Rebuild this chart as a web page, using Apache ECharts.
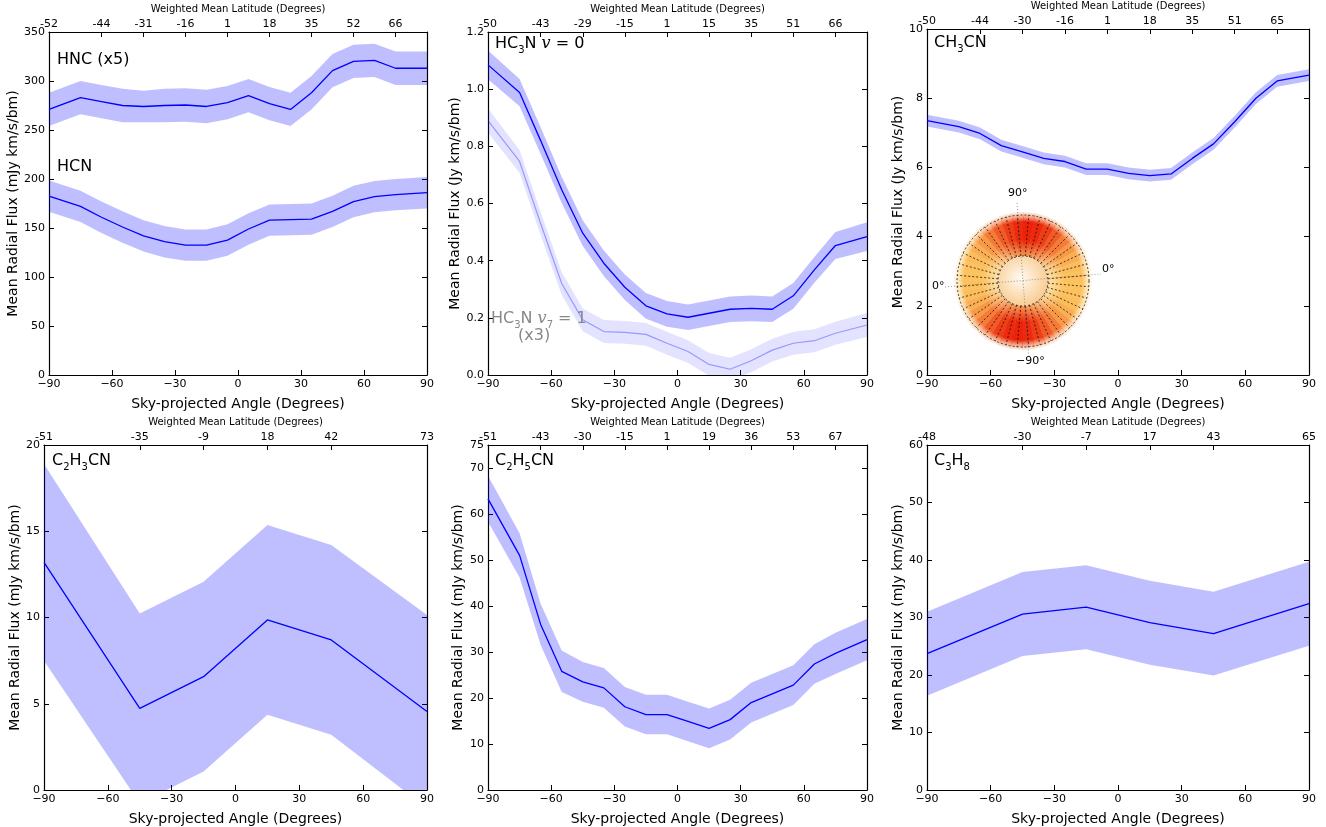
<!DOCTYPE html>
<html><head><meta charset="utf-8">
<script src="https://cdn.jsdelivr.net/npm/echarts@6/dist/echarts.min.js"></script>
<style>html,body{margin:0;background:#fff}#c{width:1326px;height:827px}</style>
</head><body><div id="c"></div>
<script>
// sky-projected angle samples
const xFull = [-90, -75, -65, -55, -45, -35, -25, -15, -5, 5, 15, 25, 35, 45, 55, 65, 75, 90];
const xCoarse = [-90, -45, -15, 15, 45, 90];

// top axis (weighted mean latitude) tick positions / labels
const topPosFull = [-90, -65, -45, -25, -5, 15, 35, 55, 75];
const topLabHNC = ['-52', '-44', '-31', '-16', '1', '18', '35', '52', '66'];
const topLabHC3N = ['-50', '-43', '-29', '-15', '1', '15', '35', '51', '66'];
const topLabCH3CN = ['-50', '-44', '-30', '-16', '1', '18', '35', '51', '65'];
const topLabC2H5CN = ['-51', '-43', '-30', '-15', '1', '19', '36', '53', '67'];
const topLabC2H3CN = ['-51', '-35', '-9', '18', '42', '73'];
const topLabC3H8 = ['-48', '-30', '-7', '17', '43', '65'];

// series values (mid, half-width of band)
const hnc = [271, 283, 279, 275, 274, 275, 275.5, 274, 278, 285, 277, 271, 288, 310.6, 320, 321, 313, 313];
const hncErr = [17, 17, 17, 17, 16, 17, 17, 17, 17, 17, 17, 17, 17, 17, 17, 17, 17, 17];
const hcn = [182.5, 172, 161, 151, 142, 136, 132.5, 132.5, 137.7, 149, 158, 158.5, 159, 167, 177, 182, 184, 186];
const hcnErr = [16, 16, 16, 16, 16, 16, 16, 16, 16, 16, 16, 16, 16, 16, 16, 16, 16, 16];
const hc3n = [1.085, 0.988, 0.82, 0.648, 0.496, 0.391, 0.307, 0.242, 0.214, 0.202, 0.216, 0.23, 0.233, 0.23, 0.277, 0.368, 0.453, 0.484];
const hc3nErr = [0.05, 0.048, 0.047, 0.046, 0.045, 0.045, 0.045, 0.045, 0.045, 0.045, 0.045, 0.045, 0.045, 0.045, 0.045, 0.045, 0.047, 0.05];
const hc3nV7 = [0.89, 0.747, 0.53, 0.32, 0.193, 0.152, 0.149, 0.142, 0.111, 0.082, 0.037, 0.02, 0.05, 0.087, 0.111, 0.12, 0.146, 0.175];
const hc3nV7Err = [0.042, 0.04, 0.04, 0.04, 0.04, 0.04, 0.04, 0.04, 0.04, 0.04, 0.04, 0.04, 0.04, 0.04, 0.04, 0.04, 0.04, 0.042];
const ch3cn = [7.35, 7.18, 6.98, 6.63, 6.45, 6.26, 6.17, 5.95, 5.95, 5.83, 5.76, 5.81, 6.26, 6.68, 7.32, 8.0, 8.5, 8.67];
const ch3cnErr = [0.17, 0.17, 0.17, 0.17, 0.17, 0.17, 0.17, 0.17, 0.17, 0.17, 0.17, 0.17, 0.17, 0.17, 0.17, 0.17, 0.17, 0.17];
const c2h3cn = [13.2, 4.73, 6.57, 9.86, 8.7, 4.55];
const c2h3cnErr = [5.7, 5.5, 5.5, 5.5, 5.5, 5.6];
const c2h5cn = [63.3, 51, 36, 25.8, 23.5, 22.2, 18.1, 16.4, 16.4, 14.9, 13.4, 15.3, 19, 20.9, 22.8, 27.4, 29.7, 32.7];
const c2h5cnErr = [5, 4.8, 4.5, 4.5, 4.3, 4.3, 4.3, 4.3, 4.3, 4.3, 4.3, 4.3, 4.3, 4.3, 4.3, 4.3, 4.5, 4.5];
const c3h8 = [23.7, 30.6, 31.8, 29.1, 27.2, 32.4];
const c3h8Err = [7.3, 7.3, 7.3, 7.3, 7.3, 7.3];

const FONT = 'DejaVu Sans';
const BLUE = '#0000ff';
const BAND = 'rgba(0,0,255,0.25)';

const panels = [
  {left: 49, top: 32, width: 378, height: 343, ymax: 350, yint: 50, topPos: topPosFull, topLab: topLabHNC, yname: 'Mean Radial Flux (mJy km/s/bm)', ygap: 27},
  {left: 488, top: 32, width: 379, height: 343, ymax: 1.2, yint: 0.2, topPos: topPosFull, topLab: topLabHC3N, yname: 'Mean Radial Flux (Jy km/s/bm)', ygap: 26, fmt: v => v.toFixed(1)},
  {left: 927, top: 29, width: 382, height: 346, ymax: 10, yint: 2, topPos: topPosFull, topLab: topLabCH3CN, yname: 'Mean Radial Flux (Jy km/s/bm)', ygap: 22},
  {left: 44, top: 445, width: 383, height: 347, ymax: 20, yint: 5, topPos: xCoarse, topLab: topLabC2H3CN, yname: 'Mean Radial Flux (mJy km/s/bm)', ygap: 21},
  {left: 488, top: 445, width: 379, height: 347, ymax: 75, yint: 10, topPos: topPosFull, topLab: topLabC2H5CN, yname: 'Mean Radial Flux (mJy km/s/bm)', ygap: 23},
  {left: 927, top: 445, width: 382, height: 347, ymax: 60, yint: 10, topPos: xCoarse, topLab: topLabC3H8, yname: 'Mean Radial Flux (mJy km/s/bm)', ygap: 22}
];

const grid = [], xAxis = [], yAxis = [], series = [];
panels.forEach((p, i) => {
  grid.push({left: p.left, top: p.top, width: p.width, height: p.height});
  xAxis.push({
    type: 'value', gridIndex: i, min: -90, max: 90, interval: 30, position: 'bottom',
    name: 'Sky-projected Angle (Degrees)', nameLocation: 'middle', nameGap: 22,
    nameTextStyle: {fontFamily: FONT, fontSize: 14, color: '#000'},
    axisLine: {onZero: false, lineStyle: {color: '#000', width: 1.2}},
    axisTick: {inside: true, length: 5, lineStyle: {color: '#000'}},
    axisLabel: {fontFamily: FONT, fontSize: 11, color: '#000', margin: 4, formatter: v => String(v).replace('-', '\u2212')},
    splitLine: {show: false}
  });
  xAxis.push({
    type: 'value', gridIndex: i, min: -90, max: 90, position: 'top',
    name: 'Weighted Mean Latitude (Degrees)', nameLocation: 'middle', nameGap: 18,
    nameTextStyle: {fontFamily: FONT, fontSize: 10, color: '#000'},
    axisLine: {onZero: false, lineStyle: {color: '#000', width: 1.2}},
    axisTick: {inside: true, length: 5, customValues: p.topPos, lineStyle: {color: '#000'}},
    axisLabel: {fontFamily: FONT, fontSize: 11, color: '#000', margin: 2, customValues: p.topPos,
      formatter: v => p.topLab[p.topPos.indexOf(v)]},
    splitLine: {show: false}
  });
  yAxis.push({
    type: 'value', gridIndex: i, min: 0, max: p.ymax, interval: p.yint, position: 'left',
    name: p.yname, nameLocation: 'middle', nameGap: p.ygap,
    nameTextStyle: {fontFamily: FONT, fontSize: 14, color: '#000'},
    axisLine: {show: true, onZero: false, lineStyle: {color: '#000', width: 1.2}},
    axisTick: {show: true, inside: true, length: 5, lineStyle: {color: '#000'}},
    axisLabel: {fontFamily: FONT, fontSize: 11, color: '#000', margin: 4, showMaxLabel: true, formatter: p.fmt},
    splitLine: {show: false}
  });
  yAxis.push({
    type: 'value', gridIndex: i, min: 0, max: p.ymax, interval: p.yint, position: 'right',
    axisLine: {show: true, onZero: false, lineStyle: {color: '#000', width: 1.2}},
    axisTick: {show: true, inside: true, length: 5, lineStyle: {color: '#000'}},
    axisLabel: {show: false}, splitLine: {show: false}
  });
});

function addBand(gi, xs, mid, err, bandColor, lineColor, lineW) {
  series.push({
    type: 'custom', xAxisIndex: gi * 2, yAxisIndex: gi * 2, silent: true, clip: true, z: 1,
    data: [0],
    renderItem: (params, api) => {
      const up = xs.map((x, k) => api.coord([x, mid[k] + err[k]]));
      const lo = xs.map((x, k) => api.coord([x, mid[k] - err[k]])).reverse();
      return {type: 'polygon', shape: {points: up.concat(lo)}, style: {fill: bandColor}};
    }
  });
  series.push({type: 'line', xAxisIndex: gi * 2, yAxisIndex: gi * 2, symbol: 'none', silent: true, z: 3,
    data: xs.map((x, k) => [x, mid[k]]), lineStyle: {color: lineColor, width: lineW}});
}
addBand(0, xFull, hnc, hncErr, BAND, BLUE, 1.3);
addBand(0, xFull, hcn, hcnErr, BAND, BLUE, 1.3);
addBand(1, xFull, hc3nV7, hc3nV7Err, 'rgba(0,0,255,0.11)', 'rgba(40,40,255,0.4)', 1.2);
addBand(1, xFull, hc3n, hc3nErr, BAND, BLUE, 1.3);
addBand(2, xFull, ch3cn, ch3cnErr, BAND, BLUE, 1.3);
addBand(3, xCoarse, c2h3cn, c2h3cnErr, BAND, BLUE, 1.3);
addBand(4, xFull, c2h5cn, c2h5cnErr, BAND, BLUE, 1.3);
addBand(5, xCoarse, c3h8, c3h8Err, BAND, BLUE, 1.3);

const rich = {
  m: {fontFamily: FONT, fontSize: 16, fill: '#000', lineHeight: 22},
  s: {fontFamily: FONT, fontSize: 10, fill: '#000', lineHeight: 13, verticalAlign: 'bottom'},
  i: {fontFamily: 'DejaVu Serif', fontStyle: 'italic', fontSize: 16, fill: '#000', lineHeight: 22},
  gm: {fontFamily: FONT, fontSize: 16, fill: '#888', lineHeight: 22},
  gs: {fontFamily: FONT, fontSize: 10, fill: '#888', lineHeight: 13, verticalAlign: 'bottom'},
  gi: {fontFamily: 'DejaVu Serif', fontStyle: 'italic', fontSize: 16, fill: '#888', lineHeight: 22}
};
function label(x, y, text) {
  return {type: 'text', left: x, top: y, z: 10, style: {text: text, rich: rich}};
}
const graphic = [
  label(57, 52, '{m|HNC (x5)}'),
  label(57, 159, '{m|HCN}'),
  label(495, 36, '{m|HC}{s|3}{m|N }{i|v}{m| = 0}'),
  label(491, 311, '{gm|HC}{gs|3}{gm|N }{gi|v}{gs|7}{gm| = 1}'),
  label(518, 328, '{gm|(x3)}'),
  label(934, 35, '{m|CH}{s|3}{m|CN}'),
  label(52, 453, '{m|C}{s|2}{m|H}{s|3}{m|CN}'),
  label(495, 453, '{m|C}{s|2}{m|H}{s|5}{m|CN}'),
  label(934, 453, '{m|C}{s|3}{m|H}{s|8}')
];

// inset: schematic disk with latitude sectors
const cx = 1023, cy = 281, R = 66, r = 25, tilt = -5 * Math.PI / 180;
function mix(a, b, t) { return a.map((v, k) => Math.round(v + (b[k] - v) * t)); }
for (let k = 0; k < 36; k++) {
  const a0 = k * Math.PI / 18, a1 = (k + 1) * Math.PI / 18, am = (a0 + a1) / 2;
  const t = Math.pow(Math.abs(Math.sin(am + tilt)), 3);
  const c1 = mix([253, 195, 95], [235, 35, 10], t);
  const c2 = mix([253, 225, 170], [245, 150, 80], t);
  graphic.push({type: 'sector', silent: true, shape: {cx, cy, r0: r, r: R + 3, startAngle: a0, endAngle: a1 + 0.01},
    style: {fill: {type: 'radial', x: cx, y: cy, r: R + 3, global: true,
      colorStops: [{offset: r / (R + 3), color: 'rgb(' + c2 + ')'}, {offset: 0.6, color: 'rgb(' + c1 + ')'},
        {offset: 0.86, color: 'rgb(' + c1 + ')'}, {offset: 1, color: 'rgba(' + c2 + ',0.15)'}]}}});
}
graphic.push({type: 'circle', silent: true, shape: {cx, cy, r},
  style: {fill: {type: 'radial', x: 0.45, y: 0.45, r: 0.6, colorStops: [{offset: 0, color: '#fffaf2'}, {offset: 1, color: '#f9c98c'}]}}});
for (let k = 0; k < 36; k++) {
  const a = k * Math.PI / 18 + tilt;
  graphic.push({type: 'line', silent: true, shape: {x1: cx + r * Math.cos(a), y1: cy + r * Math.sin(a), x2: cx + R * Math.cos(a), y2: cy + R * Math.sin(a)},
    style: {stroke: '#000', lineWidth: 0.7, lineDash: [2, 2]}});
}
graphic.push({type: 'circle', silent: true, shape: {cx, cy, r: R}, style: {fill: 'none', stroke: '#000', lineWidth: 0.7, lineDash: [2, 2]}});
graphic.push({type: 'circle', silent: true, shape: {cx, cy, r}, style: {fill: 'none', stroke: '#000', lineWidth: 0.7, lineDash: [2, 2]}});
graphic.push({type: 'line', silent: true, shape: {x1: cx - 6, y1: cy - 78, x2: cx + 6, y2: cy + 77},
  style: {stroke: '#555', lineWidth: 0.6, lineDash: [1, 2]}});
graphic.push({type: 'line', silent: true, shape: {x1: cx - 78, y1: cy + 6, x2: cx + 78, y2: cy - 7},
  style: {stroke: '#555', lineWidth: 0.6, lineDash: [1, 2]}});
const small = {fontFamily: FONT, fontSize: 11, fill: '#000'};
graphic.push({type: 'text', left: 1008, top: 188, style: Object.assign({text: '90\u00b0'}, small)});
graphic.push({type: 'text', left: 1102, top: 264, style: Object.assign({text: '0\u00b0'}, small)});
graphic.push({type: 'text', left: 932, top: 281, style: Object.assign({text: '0\u00b0'}, small)});
graphic.push({type: 'text', left: 1016, top: 356, style: Object.assign({text: '\u221290\u00b0'}, small)});

const chart = echarts.init(document.getElementById('c'), null, {renderer: 'canvas'});
chart.setOption({animation: false, backgroundColor: '#fff', grid, xAxis, yAxis, series, graphic});
</script>
</body></html>
